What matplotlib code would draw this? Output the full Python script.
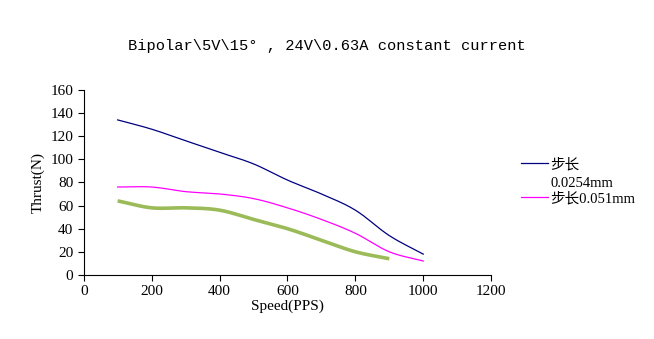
import numpy as np
import matplotlib
matplotlib.use("Agg")
import matplotlib.pyplot as plt

plt.rcParams['font.family'] = ['Liberation Serif', 'Noto Sans CJK SC', 'DejaVu Sans']

# Thrust vs. speed for two step lengths plus a third run
speed = [100, 200, 300, 400, 500, 600, 700, 800, 900, 1000]
thrust_0254 = [134, 126, 116, 106, 96, 82, 70, 56, 34, 18]
thrust_051 = [76, 76, 72, 70, 66, 58, 48, 36, 20, 12]
speed_c = [100, 200, 300, 400, 500, 600, 700, 800, 900]
thrust_c = [64, 58, 58, 56, 48, 40, 30, 20, 14]

labels = ['步长', '步长0.051mm']
label_tail = '0.0254mm'


def smooth(xs, ys, n=20):
    # Catmull-Rom style smoothing through the points
    x = np.asarray(xs, float)
    y = np.asarray(ys, float)
    px = np.concatenate([[2 * x[0] - x[1]], x, [2 * x[-1] - x[-2]]])
    py = np.concatenate([[2 * y[0] - y[1]], y, [2 * y[-1] - y[-2]]])
    outx, outy = [], []
    t = np.linspace(0, 1, n, endpoint=False)
    for i in range(1, len(px) - 2):
        for arr, out in ((px, outx), (py, outy)):
            p0, p1, p2, p3 = arr[i - 1], arr[i], arr[i + 1], arr[i + 2]
            out.extend(0.5 * ((2 * p1) + (-p0 + p2) * t
                              + (2 * p0 - 5 * p1 + 4 * p2 - p3) * t ** 2
                              + (-p0 + 3 * p1 - 3 * p2 + p3) * t ** 3))
    outx.append(x[-1])
    outy.append(y[-1])
    return outx, outy


fig = plt.figure(figsize=(6.54, 3.39), dpi=100)
ax = fig.add_axes([0.128, 0.189, 0.623, 0.546])

ax.plot(*smooth(speed, thrust_0254), color='#000080', lw=0.9, label=labels[0])
ax.plot(*smooth(speed, thrust_051), color='#ff00ff', lw=0.9, label=labels[1])
ax.plot(*smooth(speed_c, thrust_c), color='#9bbb59', lw=2.6, solid_capstyle='butt')

ax.set_xlim(0, 1200)
ax.set_ylim(0, 160)
ax.set_xticks(range(0, 1201, 200))
ax.set_yticks(range(0, 161, 20))
for s in ('top', 'right'):
    ax.spines[s].set_visible(False)
ax.tick_params(labelsize=11, length=4, width=0.8)
ax.set_xlabel('Speed(PPS)', fontsize=11, labelpad=1)
ax.set_ylabel('Thrust(N)', fontsize=11, labelpad=4)

fig.text(0.5, 0.865, 'Bipolar\\5V\\15° , 24V\\0.63A constant current',
         ha='center', va='center', fontsize=11.1,
         family=['Liberation Mono', 'DejaVu Sans Mono'])

leg = ax.legend(loc='upper left', bbox_to_anchor=(1.074, 0.633), frameon=False,
                handlelength=1.8, handletextpad=0.2, labelspacing=1.39,
                borderpad=0, borderaxespad=0,
                prop={'family': ['Liberation Serif', 'Noto Sans CJK SC'], 'size': 10.5})
# wrapped remainder of the first label, drawn after the legend
ax.annotate(label_tail, xy=(0, 0), xycoords=leg.get_texts()[0],
            xytext=(0, -4), textcoords='offset points', va='top', ha='left',
            family=['Liberation Serif', 'Noto Sans CJK SC'], fontsize=10.5,
            zorder=10, annotation_clip=False)

fig.savefig('out.png', dpi=100)
